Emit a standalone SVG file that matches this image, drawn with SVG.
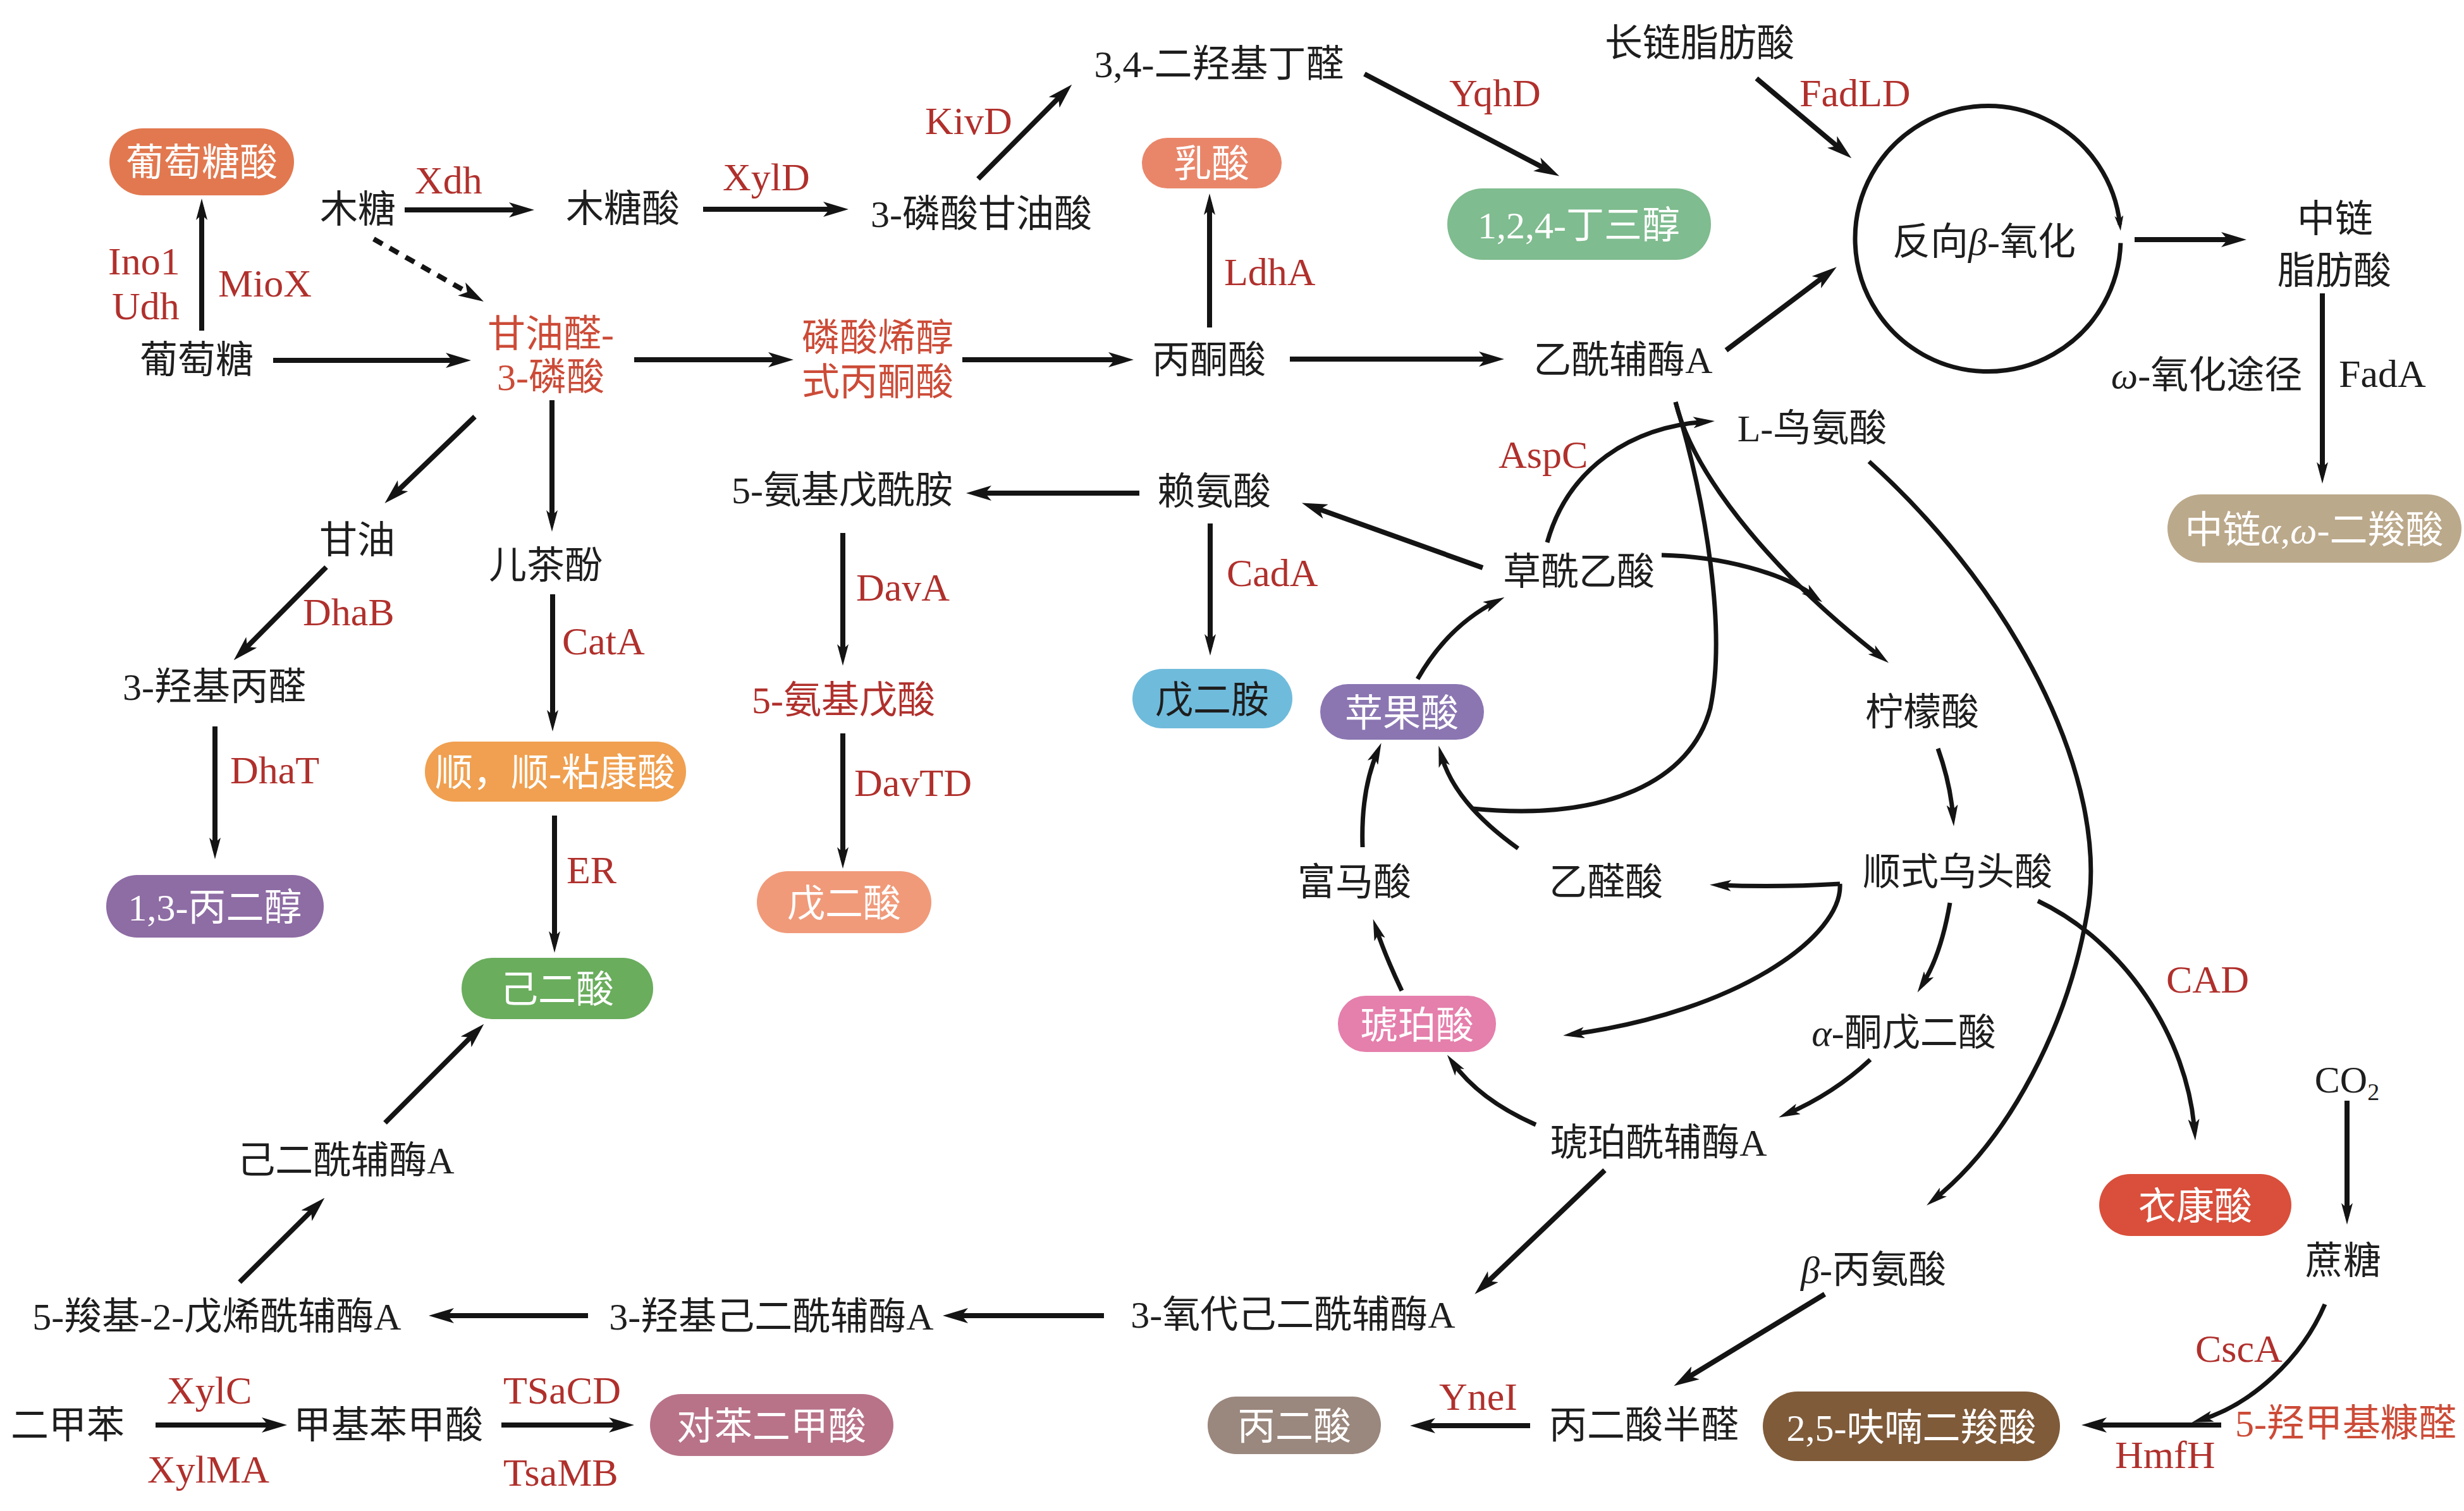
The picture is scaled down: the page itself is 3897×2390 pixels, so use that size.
<svg xmlns="http://www.w3.org/2000/svg" width="3897" height="2390" viewBox="0 0 3897 2390">
<style>
text{font-family:"Liberation Serif","Noto Sans CJK SC",serif;}
.t{font-size:60px;fill:#1e1e1e;text-anchor:middle}
.e{font-size:62px;fill:#b0302c}
.k{font-size:62px;fill:#1e1e1e}
.r{fill:#cc4b37}
.dr{fill:#b0302c}
.w{fill:#ffffff}
.i{font-style:italic}
.ln{stroke:#141414;stroke-width:8;fill:none}
.cv{stroke:#141414;stroke-width:7;fill:none}
</style>
<defs>
<marker id="a" viewBox="0 0 40 24" refX="24" refY="12" markerWidth="40" markerHeight="24" markerUnits="userSpaceOnUse" orient="auto"><path d="M0,0 L40,12 L0,24 L10,12 z" fill="#141414"/></marker>
<marker id="b" viewBox="0 0 34 18" refX="20" refY="9" markerWidth="34" markerHeight="18" markerUnits="userSpaceOnUse" orient="auto"><path d="M0,0 L34,9 L0,18 L8,9 z" fill="#141414"/></marker>
<marker id="s" viewBox="0 0 24 14" refX="14" refY="7" markerWidth="24" markerHeight="14" markerUnits="userSpaceOnUse" orient="auto"><path d="M0,0 L24,7 L0,14 L6,7 z" fill="#141414"/></marker>
</defs>
<rect width="3897" height="2390" fill="#ffffff"/>

<g id="connectors">
<path class="ln" marker-end="url(#a)" d="M432,570 L729,570"/>
<path class="ln" marker-end="url(#b)" d="M319,523 L319,328"/>
<path class="ln" marker-end="url(#a)" d="M640,332 L829,332"/>
<path class="ln" marker-end="url(#a)" stroke-dasharray="16 13" d="M591,378 L751,469"/>
<path class="ln" marker-end="url(#a)" d="M1112,331 L1326,331"/>
<path class="ln" marker-end="url(#a)" d="M1547,283 L1684,145"/>
<path class="ln" marker-end="url(#a)" d="M2158,117 L2452,271"/>
<path class="ln" marker-end="url(#a)" d="M2778,124 L2916,240"/>
<path class="ln" marker-end="url(#a)" d="M2730,554 L2892,432"/>
<path class="ln" marker-end="url(#a)" d="M3376,379 L3537,379"/>
<path class="ln" marker-end="url(#b)" d="M3673,464 L3673,751"/>
<path class="ln" marker-end="url(#a)" d="M1003,569 L1239,569"/>
<path class="ln" marker-end="url(#a)" d="M1522,569 L1777,569"/>
<path class="ln" marker-end="url(#b)" d="M1913,518 L1913,320"/>
<path class="ln" marker-end="url(#a)" d="M2040,568 L2363,568"/>
<path class="ln" marker-end="url(#a)" d="M751,659 L620,785"/>
<path class="ln" marker-end="url(#b)" d="M873,633 L873,827"/>
<path class="ln" marker-end="url(#a)" d="M516,897 L381,1033"/>
<path class="ln" marker-end="url(#b)" d="M340,1149 L340,1345"/>
<path class="ln" marker-end="url(#b)" d="M874,940 L874,1143"/>
<path class="ln" marker-end="url(#b)" d="M877,1290 L877,1493"/>
<path class="ln" marker-end="url(#a)" d="M1802,780 L1544,780"/>
<path class="ln" marker-end="url(#b)" d="M1333,843 L1333,1039"/>
<path class="ln" marker-end="url(#b)" d="M1333,1160 L1333,1360"/>
<path class="ln" marker-end="url(#b)" d="M1914,828 L1914,1023"/>
<path class="ln" marker-end="url(#a)" d="M2345,898 L2074,801"/>
<path class="ln" marker-end="url(#a)" d="M2538,1851 L2344,2036"/>
<path class="ln" marker-end="url(#a)" d="M1746,2081 L1507,2081"/>
<path class="ln" marker-end="url(#a)" d="M930,2081 L694,2081"/>
<path class="ln" marker-end="url(#a)" d="M379,2028 L502,1906"/>
<path class="ln" marker-end="url(#a)" d="M609,1776 L754,1631"/>
<path class="ln" marker-end="url(#a)" d="M246,2254 L438,2254"/>
<path class="ln" marker-end="url(#a)" d="M793,2254 L987,2254"/>
<path class="ln" marker-end="url(#a)" d="M2886,2047 L2661,2184"/>
<path class="ln" marker-end="url(#a)" d="M2420,2255 L2246,2255"/>
<path class="ln" marker-end="url(#a)" d="M3513,2254 L3308,2254"/>
<path class="ln" marker-end="url(#b)" d="M3712,1741 L3712,1923"/>
<path class="cv" marker-end="url(#b)" d="M3677,2063 C3640,2150 3560,2222 3480,2246"/>
<path class="cv" marker-end="url(#s)" d="M3353.9,384.3 A210,210 0 1 1 3352.8,355.1"/>
<path class="cv" marker-end="url(#b)" d="M3065,1184 Q3085,1240 3089,1293"/>
<path class="cv" marker-end="url(#b)" d="M2910,1398 Q2810,1404 2718,1400"/>
<path class="cv" marker-end="url(#b)" d="M2910,1398 C2915,1480 2750,1600 2486,1636"/>
<path class="cv" marker-end="url(#b)" d="M3084,1428 Q3070,1510 3040,1558"/>
<path class="cv" marker-end="url(#b)" d="M2958,1676 Q2900,1730 2826,1762"/>
<path class="cv" marker-end="url(#b)" d="M2429,1779 Q2340,1740 2297,1680"/>
<path class="cv" marker-end="url(#b)" d="M2217,1567 Q2190,1510 2176,1467"/>
<path class="cv" marker-end="url(#b)" d="M2155,1340 Q2152,1250 2179,1188"/>
<path class="cv" marker-end="url(#b)" d="M2401,1342 Q2300,1270 2279,1193"/>
<path class="cv" marker-end="url(#b)" d="M2242,1074 Q2290,990 2367,951"/>
<path class="cv" marker-end="url(#b)" d="M2447,858 C2480,740 2580,675 2698,667"/>
<path class="cv" d="M2650,636 C2700,800 2730,1000 2705,1120 C2675,1235 2540,1300 2329,1279"/>
<path class="cv" marker-end="url(#b)" d="M2650,636 C2680,760 2820,920 2976,1040"/>
<path class="cv" marker-end="url(#b)" d="M2628,878 C2720,880 2820,905 2871,944"/>
<path class="cv" marker-end="url(#b)" d="M2956,730 C3200,950 3340,1250 3300,1450 C3270,1620 3180,1800 3058,1898"/>
<path class="cv" marker-end="url(#b)" d="M3223,1425 C3360,1490 3460,1640 3471,1790"/>
</g>

<g id="n-glucose"><text class="t" x="311" y="590">葡萄糖</text></g>
<g id="n-glucaric"><rect x="173" y="203" width="292" height="106" rx="53" fill="#e2784f"/><text class="t w" x="319" y="278">葡萄糖酸</text></g>
<g id="n-xylose"><text class="t" x="566" y="352">木糖</text></g>
<g id="n-xylonic"><text class="t" x="985" y="351">木糖酸</text></g>
<g id="n-3pg"><text class="t" x="1552" y="359">3-磷酸甘油酸</text></g>
<g id="n-dhb"><text class="t" x="1928" y="122">3,4-二羟基丁醛</text></g>
<g id="n-btol"><rect x="2289" y="298" width="417" height="113" rx="56" fill="#7fbc8f"/><text class="t w" x="2497" y="377">1,2,4-丁三醇</text></g>
<g id="n-lcfa"><text class="t" x="2688" y="89">长链脂肪酸</text></g>
<g id="n-rbo"><text class="t" x="3138" y="403">反向<tspan class="i">β</tspan>-氧化</text></g>
<g id="n-mcfa"><text class="t" x="3693" y="367">中链</text><text class="t" x="3692" y="449">脂肪酸</text></g>
<g id="n-omega"><text class="t" x="3490" y="614"><tspan class="i">ω</tspan>-氧化途径</text></g>
<g id="n-mcdca"><rect x="3428" y="782" width="465" height="108" rx="54" fill="#bba98b"/><text class="t w" x="3660" y="859">中链<tspan class="i">α</tspan>,<tspan class="i">ω</tspan>-二羧酸</text></g>
<g id="n-g3p"><text class="t r" x="871" y="549">甘油醛-</text><text class="t r" x="871" y="617">3-磷酸</text></g>
<g id="n-pep"><text class="t r" x="1388" y="555">磷酸烯醇</text><text class="t r" x="1388" y="625">式丙酮酸</text></g>
<g id="n-pyruvate"><text class="t" x="1912" y="590">丙酮酸</text></g>
<g id="n-lactate"><rect x="1806" y="218" width="221" height="80" rx="40" fill="#e9866a"/><text class="t w" x="1916" y="280">乳酸</text></g>
<g id="n-accoa"><text class="t" x="2567" y="590">乙酰辅酶A</text></g>
<g id="n-glycerol"><text class="t" x="565" y="875">甘油</text></g>
<g id="n-catechol"><text class="t" x="863" y="915">儿茶酚</text></g>
<g id="n-3hpa"><text class="t" x="339" y="1107">3-羟基丙醛</text></g>
<g id="n-pdo"><rect x="168" y="1384" width="344" height="99" rx="49" fill="#8e6ca4"/><text class="t w" x="340" y="1456">1,3-丙二醇</text></g>
<g id="n-muconic"><rect x="672" y="1173" width="413" height="95" rx="47" fill="#f0a050"/><text class="t w" x="878" y="1243">顺，顺-粘康酸</text></g>
<g id="n-adipic"><rect x="730" y="1515" width="303" height="97" rx="48" fill="#6aad5d"/><text class="t w" x="881" y="1586">己二酸</text></g>
<g id="n-5ava"><text class="t" x="1332" y="796">5-氨基戊酰胺</text></g>
<g id="n-5aval"><text class="t dr" x="1334" y="1128">5-氨基戊酸</text></g>
<g id="n-glutarate"><rect x="1197" y="1378" width="276" height="98" rx="49" fill="#f09a7a"/><text class="t w" x="1335" y="1450">戊二酸</text></g>
<g id="n-lysine"><text class="t" x="1920" y="798">赖氨酸</text></g>
<g id="n-cadaverine"><rect x="1791" y="1058" width="253" height="94" rx="47" fill="#6fbbdc"/><text class="t" x="1917" y="1128">戊二胺</text></g>
<g id="n-ornithine"><text class="t" x="2866" y="698">L-鸟氨酸</text></g>
<g id="n-oaa"><text class="t" x="2497" y="925">草酰乙酸</text></g>
<g id="n-malate"><rect x="2088" y="1082" width="259" height="88" rx="44" fill="#8b76b2"/><text class="t w" x="2217" y="1149">苹果酸</text></g>
<g id="n-citrate"><text class="t" x="3040" y="1147">柠檬酸</text></g>
<g id="n-aconitate"><text class="t" x="3096" y="1400">顺式乌头酸</text></g>
<g id="n-fumarate"><text class="t" x="2142" y="1416">富马酸</text></g>
<g id="n-glyoxylate"><text class="t" x="2540" y="1416">乙醛酸</text></g>
<g id="n-succinate"><rect x="2116" y="1575" width="250" height="89" rx="44" fill="#e57fac"/><text class="t w" x="2241" y="1643">琥珀酸</text></g>
<g id="n-akg"><text class="t" x="3011" y="1654"><tspan class="i">α</tspan>-酮戊二酸</text></g>
<g id="n-succoa"><text class="t" x="2623" y="1828">琥珀酰辅酶A</text></g>
<g id="n-itaconic"><rect x="3320" y="1857" width="304" height="98" rx="49" fill="#d94f3b"/><text class="t w" x="3472" y="1929">衣康酸</text></g>
<g id="n-co2"><text class="t" x="3712" y="1728">CO<tspan font-size="38" dy="12">2</tspan></text></g>
<g id="n-sucrose"><text class="t" x="3706" y="2015">蔗糖</text></g>
<g id="n-hmf"><text class="t r" x="3710" y="2272">5-羟甲基糠醛</text></g>
<g id="n-fdca"><rect x="2788" y="2201" width="470" height="110" rx="55" fill="#7f5b3a"/><text class="t w" x="3023" y="2279">2,5-呋喃二羧酸</text></g>
<g id="n-balanine"><text class="t" x="2963" y="2029"><tspan class="i">β</tspan>-丙氨酸</text></g>
<g id="n-msa"><text class="t" x="2600" y="2275">丙二酸半醛</text></g>
<g id="n-malonic"><rect x="1910" y="2209" width="274" height="91" rx="45" fill="#9a877d"/><text class="t w" x="2047" y="2277">丙二酸</text></g>
<g id="n-3oxo"><text class="t" x="2045" y="2100">3-氧代己二酰辅酶A</text></g>
<g id="n-3hydroxy"><text class="t" x="1220" y="2103">3-羟基己二酰辅酶A</text></g>
<g id="n-5carboxy"><text class="t" x="343" y="2103">5-羧基-2-戊烯酰辅酶A</text></g>
<g id="n-adipylcoa"><text class="t" x="547" y="1856">己二酰辅酶A</text></g>
<g id="n-xylene"><text class="t" x="107" y="2275">二甲苯</text></g>
<g id="n-toluic"><text class="t" x="614" y="2275">甲基苯甲酸</text></g>
<g id="n-tpa"><rect x="1028" y="2205" width="385" height="98" rx="49" fill="#b87389"/><text class="t w" x="1220" y="2277">对苯二甲酸</text></g>

<g id="enzymes">
<text class="e" x="656" y="306">Xdh</text>
<text class="e" x="171" y="434">Ino1</text>
<text class="e" x="177" y="505">Udh</text>
<text class="e" x="345" y="469">MioX</text>
<text class="e" x="1143" y="301">XylD</text>
<text class="e" x="1463" y="212">KivD</text>
<text class="e" x="2292" y="168">YqhD</text>
<text class="e" x="2846" y="168">FadLD</text>
<text class="e" x="1936" y="451">LdhA</text>
<text class="e" x="2370" y="740">AspC</text>
<text class="e" x="1940" y="927">CadA</text>
<text class="e" x="479" y="989">DhaB</text>
<text class="e" x="889" y="1035">CatA</text>
<text class="e" x="364" y="1239">DhaT</text>
<text class="e" x="896" y="1397">ER</text>
<text class="e" x="1354" y="950">DavA</text>
<text class="e" x="1351" y="1259">DavTD</text>
<text class="e" x="3426" y="1570">CAD</text>
<text class="e" x="2276" y="2230">YneI</text>
<text class="e" x="3472" y="2154">CscA</text>
<text class="e" x="3345" y="2322">HmfH</text>
<text class="e" x="264" y="2220">XylC</text>
<text class="e" x="233" y="2345">XylMA</text>
<text class="e" x="796" y="2220">TSaCD</text>
<text class="e" x="796" y="2350">TsaMB</text>
<text class="k" x="3699" y="612">FadA</text>
</g>
</svg>
